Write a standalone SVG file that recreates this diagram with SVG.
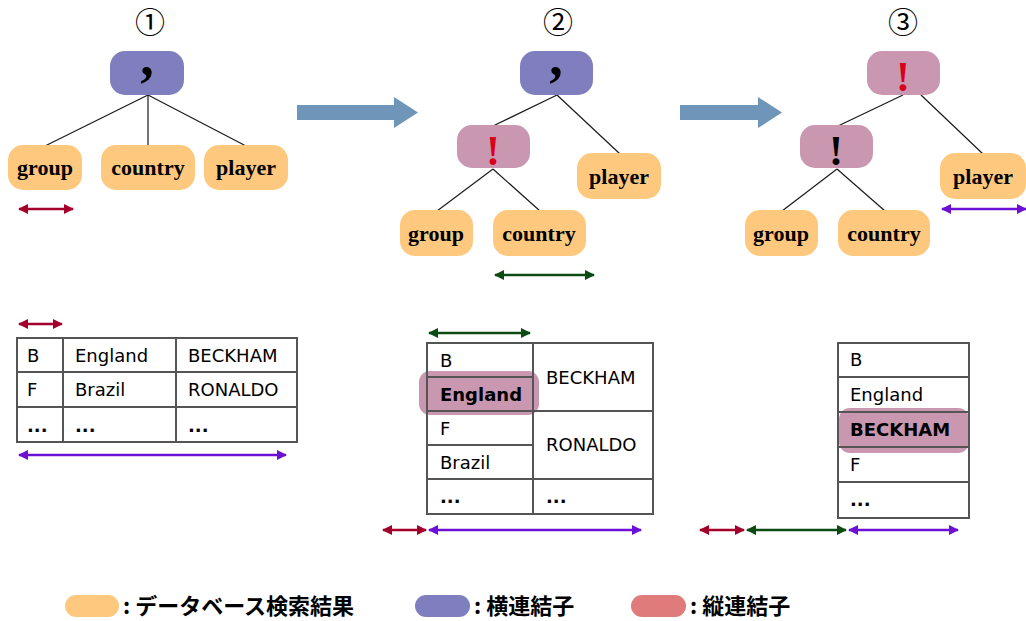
<svg xmlns="http://www.w3.org/2000/svg" width="1026" height="621" viewBox="0 0 1026 621">
  <style>
    .db { fill: #fec97f; }
    .hj { fill: #7f7fbf; }
    .vj { fill: #c997af; }
    .edge { stroke: #1a1a1a; stroke-width: 1.2; fill: none; }
    .lbl { font-family: "Liberation Serif", serif; font-weight: bold; font-size: 22px; fill: #000; text-anchor: middle; }
    .op { font-family: "Liberation Serif", serif; font-weight: bold; text-anchor: middle; }
    .num { font-family: "Noto Sans CJK JP", "DejaVu Sans", sans-serif; font-size: 30px; fill: #000; text-anchor: middle; }
    .cell { font-family: "DejaVu Sans", sans-serif; font-size: 18px; fill: #000; }
    .cellb { font-family: "DejaVu Sans", sans-serif; font-size: 18px; font-weight: bold; fill: #000; }
    .grid { stroke: #555; stroke-width: 2; fill: none; }
    .leg { font-family: "Noto Sans CJK JP", sans-serif; font-weight: bold; font-size: 22px; fill: #000; }
    .flow { fill: #6f96b9; }
    .red { stroke: #a3002b; stroke-width: 2.5; marker-start: url(#hr); marker-end: url(#hr); }
    .grn { stroke: #0b4a10; stroke-width: 2.5; marker-start: url(#hg); marker-end: url(#hg); }
    .pur { stroke: #6d10d6; stroke-width: 2.5; marker-start: url(#hp); marker-end: url(#hp); }
  </style>
  <defs>
    <marker id="hr" viewBox="0 0 10 10" refX="9" refY="5" markerWidth="4.4" markerHeight="4" orient="auto-start-reverse"><path d="M0,0 L10,5 L0,10 z" fill="#a3002b"/></marker>
    <marker id="hg" viewBox="0 0 10 10" refX="9" refY="5" markerWidth="4.4" markerHeight="4" orient="auto-start-reverse"><path d="M0,0 L10,5 L0,10 z" fill="#0b4a10"/></marker>
    <marker id="hp" viewBox="0 0 10 10" refX="9" refY="5" markerWidth="4.4" markerHeight="4" orient="auto-start-reverse"><path d="M0,0 L10,5 L0,10 z" fill="#6d10d6"/></marker>
  </defs>
  <rect width="1026" height="621" fill="#fff"/>

  <!-- step numbers -->
  <text class="num" x="150" y="33">①</text>
  <text class="num" x="558" y="33">②</text>
  <text class="num" x="903" y="33">③</text>

  <!-- flow arrows between steps -->
  <path class="flow" d="M297,105 H394 V97 L418,112.5 L394,128 V120 H297 z"/>
  <path class="flow" d="M680,105 H758 V97 L782,112.5 L758,128 V120 H680 z"/>

  <!-- tree edges -->
  <g id="connectors">
    <line class="edge" x1="148" y1="95" x2="45" y2="146"/>
    <line class="edge" x1="148" y1="95" x2="148" y2="146"/>
    <line class="edge" x1="148" y1="95" x2="246" y2="146"/>

    <line class="edge" x1="557" y1="95" x2="493" y2="126"/>
    <line class="edge" x1="557" y1="95" x2="620" y2="154"/>
    <line class="edge" x1="493" y1="169" x2="437" y2="211"/>
    <line class="edge" x1="493" y1="169" x2="540" y2="211"/>

    <line class="edge" x1="903" y1="95" x2="838" y2="126"/>
    <line class="edge" x1="921" y1="95" x2="983" y2="154"/>
    <line class="edge" x1="837" y1="169" x2="782" y2="211"/>
    <line class="edge" x1="837" y1="169" x2="885" y2="211"/>
  </g>

  <!-- step 1 tree -->
  <g id="s1-join">
    <rect class="hj" x="110" y="51" width="74" height="44" rx="15"/>
    <text class="op" x="147" y="75" font-size="54">,</text>
  </g>
  <g id="s1-group">
    <rect class="db" x="8" y="145" width="74" height="45" rx="15"/>
    <text class="lbl" x="45" y="175">group</text>
  </g>
  <g id="s1-country">
    <rect class="db" x="101" y="145" width="94" height="45" rx="15"/>
    <text class="lbl" x="148" y="175">country</text>
  </g>
  <g id="s1-player">
    <rect class="db" x="204" y="145" width="84" height="45" rx="15"/>
    <text class="lbl" x="246" y="175">player</text>
  </g>

  <!-- step 2 tree -->
  <g id="s2-join">
    <rect class="hj" x="520" y="51" width="73" height="44" rx="15"/>
    <text class="op" x="556" y="75" font-size="54">,</text>
  </g>
  <g id="s2-vjoin">
    <rect class="vj" x="457" y="125" width="73" height="43" rx="15"/>
    <text class="op" x="493" y="165" font-size="42" fill="#d8001c">!</text>
  </g>
  <g id="s2-player">
    <rect class="db" x="577" y="153" width="84" height="46" rx="15"/>
    <text class="lbl" x="619" y="184">player</text>
  </g>
  <g id="s2-group">
    <rect class="db" x="400" y="210" width="73" height="46" rx="15"/>
    <text class="lbl" x="436" y="241">group</text>
  </g>
  <g id="s2-country">
    <rect class="db" x="493" y="210" width="93" height="46" rx="15"/>
    <text class="lbl" x="539" y="241">country</text>
  </g>

  <!-- step 3 tree -->
  <g id="s3-vjoin-top">
    <rect class="vj" x="867" y="51" width="73" height="44" rx="15"/>
    <text class="op" x="903" y="91" font-size="42" fill="#d8001c">!</text>
  </g>
  <g id="s3-vjoin">
    <rect class="vj" x="800" y="125" width="73" height="43" rx="15"/>
    <text class="op" x="836" y="165" font-size="42" fill="#000">!</text>
  </g>
  <g id="s3-player">
    <rect class="db" x="940" y="153" width="86" height="46" rx="15"/>
    <text class="lbl" x="983" y="184">player</text>
  </g>
  <g id="s3-group">
    <rect class="db" x="745" y="210" width="73" height="46" rx="15"/>
    <text class="lbl" x="781" y="241">group</text>
  </g>
  <g id="s3-country">
    <rect class="db" x="838" y="210" width="92" height="46" rx="15"/>
    <text class="lbl" x="884" y="241">country</text>
  </g>

  <!-- width markers under the trees -->
  <line class="red" x1="19" y1="209" x2="73" y2="209"/>
  <line class="grn" x1="495" y1="275" x2="594" y2="275"/>
  <line class="pur" x1="942" y1="209" x2="1026" y2="209"/>

  <!-- table 1 -->
  <g id="table1">
    <rect class="grid" x="17" y="338" width="280" height="104"/>
    <line class="grid" x1="17" y1="372" x2="297" y2="372"/>
    <line class="grid" x1="17" y1="407" x2="297" y2="407"/>
    <line class="grid" x1="63" y1="338" x2="63" y2="442"/>
    <line class="grid" x1="176" y1="338" x2="176" y2="442"/>
    <text class="cell" x="27" y="362">B</text>
    <text class="cell" x="75" y="362">England</text>
    <text class="cell" x="188" y="362">BECKHAM</text>
    <text class="cell" x="27" y="396">F</text>
    <text class="cell" x="75" y="396">Brazil</text>
    <text class="cell" x="188" y="396">RONALDO</text>
    <text class="cellb" x="27" y="432">...</text>
    <text class="cellb" x="75" y="432">...</text>
    <text class="cellb" x="188" y="432">...</text>
  </g>
  <line class="red" x1="19" y1="324" x2="62" y2="324"/>
  <line class="pur" x1="19" y1="455" x2="286" y2="455"/>

  <!-- table 2 -->
  <g id="table2">
    <rect x="419" y="371" width="120" height="44" rx="11" fill="#c997af"/>
    <rect class="grid" x="427" y="343" width="226" height="171"/>
    <line class="grid" x1="427" y1="377" x2="533" y2="377"/>
    <line class="grid" x1="427" y1="411" x2="653" y2="411"/>
    <line class="grid" x1="427" y1="445" x2="533" y2="445"/>
    <line class="grid" x1="427" y1="479" x2="653" y2="479"/>
    <line class="grid" x1="533" y1="343" x2="533" y2="514"/>
    <text class="cell" x="440" y="367">B</text>
    <text class="cellb" x="440" y="401">England</text>
    <text class="cell" x="440" y="435">F</text>
    <text class="cell" x="440" y="469">Brazil</text>
    <text class="cellb" x="440" y="503">...</text>
    <text class="cell" x="546" y="384">BECKHAM</text>
    <text class="cell" x="546" y="451">RONALDO</text>
    <text class="cellb" x="546" y="503">...</text>
  </g>
  <line class="grn" x1="429" y1="333" x2="530" y2="333"/>
  <line class="red" x1="383" y1="530" x2="426" y2="530"/>
  <line class="pur" x1="429" y1="530" x2="641" y2="530"/>

  <!-- table 3 -->
  <g id="table3">
    <rect x="839" y="408" width="130" height="45" rx="11" fill="#c997af"/>
    <rect class="grid" x="838" y="343" width="131" height="175"/>
    <line class="grid" x1="838" y1="377" x2="969" y2="377"/>
    <line class="grid" x1="838" y1="412" x2="969" y2="412"/>
    <line class="grid" x1="838" y1="447" x2="969" y2="447"/>
    <line class="grid" x1="838" y1="482" x2="969" y2="482"/>
    <text class="cell" x="850" y="366">B</text>
    <text class="cell" x="850" y="401">England</text>
    <text class="cellb" x="850" y="436">BECKHAM</text>
    <text class="cell" x="850" y="471">F</text>
    <text class="cellb" x="850" y="506">...</text>
  </g>
  <line class="red" x1="700" y1="530" x2="744" y2="530"/>
  <line class="grn" x1="747" y1="530" x2="846" y2="530"/>
  <line class="pur" x1="849" y1="530" x2="958" y2="530"/>

  <!-- legend -->
  <g id="legend">
    <rect class="db" x="65" y="595" width="54" height="22" rx="11"/>
    <text class="leg" x="123" y="614">: データベース検索結果</text>
    <rect class="hj" x="415" y="595" width="55" height="22" rx="11"/>
    <text class="leg" x="474" y="614">: 横連結子</text>
    <rect x="631" y="595" width="55" height="22" rx="11" fill="#e07b7b"/>
    <text class="leg" x="690" y="614">: 縦連結子</text>
  </g>
</svg>
